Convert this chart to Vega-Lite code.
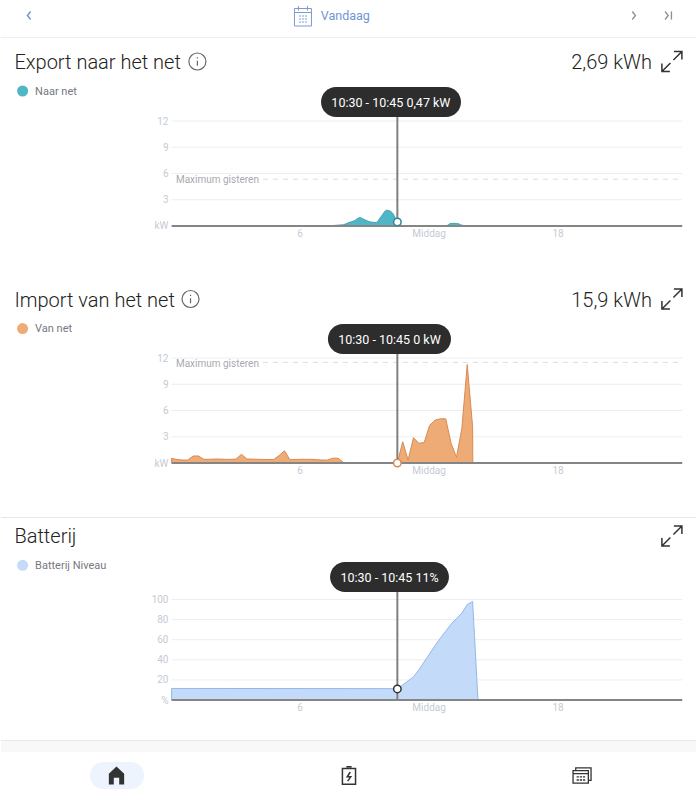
{
  "$schema": "https://vega.github.io/schema/vega-lite/v6.json",
  "padding": 0,
  "spacing": 0,
  "bounds": "flush",
  "background": "white",
  "config": {
    "view": {"stroke": null},
    "text": {"font": "Roboto", "dy": 1.2},
    "axis": {"title": null, "grid": false, "ticks": false, "domain": false, "labelFont": "Roboto", "labelFontSize": 10, "labelColor": "#c6cad6"}
  },
  "data": {"values": [{}]},
  "datasets": {
    "export": [
      {"hour": 7.25, "kW": 0}, {"hour": 7.5, "kW": 0.05}, {"hour": 7.75, "kW": 0.1}, {"hour": 8, "kW": 0.15},
      {"hour": 8.25, "kW": 0.4}, {"hour": 8.5, "kW": 0.6}, {"hour": 8.75, "kW": 0.95}, {"hour": 9, "kW": 0.7},
      {"hour": 9.25, "kW": 0.45}, {"hour": 9.5, "kW": 0.4}, {"hour": 9.75, "kW": 1.1}, {"hour": 10, "kW": 1.8},
      {"hour": 10.25, "kW": 1.55}, {"hour": 10.5, "kW": 0.47}, {"hour": 10.75, "kW": 0.05}, {"hour": 11, "kW": 0},
      {"hour": 11.25, "kW": 0}, {"hour": 11.5, "kW": 0.06}, {"hour": 11.75, "kW": 0}, {"hour": 12.75, "kW": 0},
      {"hour": 13, "kW": 0.3}, {"hour": 13.25, "kW": 0.3}, {"hour": 13.5, "kW": 0.1}, {"hour": 13.75, "kW": 0}
    ],
    "import": [
      {"hour": 0, "kW": 0.53}, {"hour": 0.25, "kW": 0.4}, {"hour": 0.5, "kW": 0.34}, {"hour": 0.75, "kW": 0.34},
      {"hour": 1, "kW": 0.8}, {"hour": 1.25, "kW": 0.8}, {"hour": 1.5, "kW": 0.42}, {"hour": 1.75, "kW": 0.42},
      {"hour": 2, "kW": 0.45}, {"hour": 2.25, "kW": 0.45}, {"hour": 2.5, "kW": 0.42}, {"hour": 2.75, "kW": 0.42},
      {"hour": 3, "kW": 0.45}, {"hour": 3.25, "kW": 1}, {"hour": 3.5, "kW": 0.45}, {"hour": 3.75, "kW": 0.45},
      {"hour": 4, "kW": 0.42}, {"hour": 4.25, "kW": 0.4}, {"hour": 4.5, "kW": 0.4}, {"hour": 4.75, "kW": 0.4},
      {"hour": 5, "kW": 0.85}, {"hour": 5.25, "kW": 1.4}, {"hour": 5.5, "kW": 0.38}, {"hour": 5.75, "kW": 0.4},
      {"hour": 6, "kW": 0.42}, {"hour": 6.25, "kW": 0.42}, {"hour": 6.5, "kW": 0.42}, {"hour": 6.75, "kW": 0.38},
      {"hour": 7, "kW": 0.34}, {"hour": 7.25, "kW": 0.34}, {"hour": 7.5, "kW": 0.55}, {"hour": 7.75, "kW": 0.55},
      {"hour": 8, "kW": 0.05}, {"hour": 8.25, "kW": 0}, {"hour": 10.5, "kW": 0}, {"hour": 10.75, "kW": 2.43},
      {"hour": 11, "kW": 0.34}, {"hour": 11.25, "kW": 2.9}, {"hour": 11.5, "kW": 2.25}, {"hour": 11.75, "kW": 2.35},
      {"hour": 12, "kW": 4.3}, {"hour": 12.25, "kW": 4.9}, {"hour": 12.5, "kW": 5.05}, {"hour": 12.75, "kW": 5.05},
      {"hour": 13, "kW": 2.25}, {"hour": 13.25, "kW": 0.65}, {"hour": 13.5, "kW": 3.95}, {"hour": 13.75, "kW": 11.25},
      {"hour": 14, "kW": 4.15}, {"hour": 14.01, "kW": 0}
    ],
    "battery": [
      {"hour": 0, "pct": 11.5}, {"hour": 10.5, "pct": 11.3}, {"hour": 10.75, "pct": 15}, {"hour": 11, "pct": 19},
      {"hour": 11.25, "pct": 23}, {"hour": 11.5, "pct": 30}, {"hour": 11.75, "pct": 38}, {"hour": 12, "pct": 46},
      {"hour": 12.25, "pct": 54}, {"hour": 12.5, "pct": 61.5}, {"hour": 12.75, "pct": 68.5}, {"hour": 13, "pct": 75.5},
      {"hour": 13.25, "pct": 81}, {"hour": 13.5, "pct": 86.5}, {"hour": 13.75, "pct": 95}, {"hour": 14, "pct": 98},
      {"hour": 14.25, "pct": 0}
    ]
  },
  "vconcat": [
    {
      "width": 696,
      "height": 38,
      "layer": [
        {
          "mark": {"type": "rule", "stroke": "#efefef", "strokeWidth": 1},
          "encoding": {
            "x": {"datum": -7.935, "type": "quantitative", "scale": {"domain": [-7.935, 24.437], "nice": false, "zero": false}, "axis": null},
            "x2": {"datum": 24.437},
            "y": {"datum": 37.5, "type": "quantitative", "scale": {"domain": [0, 38], "reverse": true, "nice": false}, "axis": null}
          }
        },
        {
          "mark": {"type": "point", "shape": "M0.4,-1L-0.4,0L0.4,1", "size": 64, "filled": false, "stroke": "#6f94d6", "strokeWidth": 1.4, "opacity": 1},
          "encoding": {"x": {"datum": -6.632}, "y": {"datum": 15.5}}
        },
        {
          "mark": {"type": "point", "shape": "M-0.85,-0.75H0.85V1H-0.85Z M-0.85,-0.35H0.85 M-0.45,-1V-0.55 M0.45,-1V-0.55 M-0.4,0H-0.2 M-0.1,0H0.1 M0.2,0H0.4 M-0.4,0.3H-0.2 M-0.1,0.3H0.1 M0.2,0.3H0.4 M-0.4,0.6H-0.2 M-0.1,0.6H0.1 M0.2,0.6H0.4", "size": 400, "filled": false, "stroke": "#7d9bd3", "strokeWidth": 1, "opacity": 1},
          "encoding": {"x": {"datum": 6.11}, "y": {"datum": 16}}
        },
        {
          "mark": {"type": "text", "text": "Vandaag", "align": "left", "baseline": "middle", "fontSize": 12.5, "fill": "#6f94d6"},
          "encoding": {"x": {"datum": 6.94}, "y": {"datum": 15}}
        },
        {
          "mark": {"type": "point", "shape": "M-0.4,-1L0.4,0L-0.4,1", "size": 64, "filled": false, "stroke": "#8d8d96", "strokeWidth": 1.3, "opacity": 1},
          "encoding": {"x": {"datum": 21.5}, "y": {"datum": 15.5}}
        },
        {
          "mark": {"type": "point", "shape": "M-0.8,-1L0,0L-0.8,1 M0.8,-1V1", "size": 64, "filled": false, "stroke": "#8d8d96", "strokeWidth": 1.3, "opacity": 1},
          "encoding": {"x": {"datum": 23.1}, "y": {"datum": 15.5}}
        }
      ]
    },
    {
      "width": 696,
      "height": 240,
      "layer": [
        {
          "data": {"values": [{"tick": 3}, {"tick": 6}, {"tick": 9}, {"tick": 12}]},
          "mark": {"type": "rule", "stroke": "#eceef1", "strokeWidth": 1},
          "encoding": {
            "x": {"datum": 0, "type": "quantitative", "scale": {"domain": [-7.935, 24.437], "nice": false, "zero": false}, "axis": {"values": [6, 12, 18], "offset": -52, "labelPadding": 2, "labelOffset": -1, "labelExpr": "datum.value == 12 ? 'Middag' : datum.label"}},
            "x2": {"datum": 23.75},
            "y": {"field": "tick", "type": "quantitative", "scale": {"domain": [-5.943, 21.486], "nice": false}, "axis": {"values": [0, 3, 6, 9, 12], "offset": -171, "labelPadding": 4, "labelExpr": "datum.value == 0 ? 'kW' : datum.label"}}
          }
        },
        {
          "mark": {"type": "rule", "stroke": "#dcdde0", "strokeWidth": 1, "strokeDash": [5, 5]},
          "encoding": {"x": {"datum": 4.25}, "x2": {"datum": 23.75}, "y": {"datum": 5.35}}
        },
        {
          "mark": {"type": "text", "text": "Maximum gisteren", "align": "left", "baseline": "middle", "fontSize": 10, "fill": "#a9a9af"},
          "encoding": {"x": {"datum": 0.2}, "y": {"datum": 5.35}}
        },
        {
          "data": {"name": "export"},
          "mark": {"type": "area", "interpolate": "monotone", "fill": "#4fb6c8", "stroke": "#3f9fb1", "strokeWidth": 1, "fillOpacity": 1},
          "encoding": {"x": {"field": "hour", "type": "quantitative"}, "y": {"field": "kW", "type": "quantitative"}}
        },
        {
          "mark": {"type": "rule", "stroke": "#858585", "strokeWidth": 2},
          "encoding": {"x": {"datum": 0}, "x2": {"datum": 23.75}, "y": {"datum": 0}}
        },
        {
          "mark": {"type": "rule", "stroke": "#808080", "strokeWidth": 2},
          "encoding": {"x": {"datum": 10.5}, "y": {"datum": 0}, "y2": {"datum": 12.457}}
        },
        {
          "mark": {"type": "point", "filled": true, "fill": "white", "fillOpacity": 1, "stroke": "#2f8696", "strokeWidth": 1.5, "size": 56, "opacity": 1},
          "encoding": {"x": {"datum": 10.5}, "y": {"datum": 0.47}}
        },
        {
          "mark": {"type": "rect", "fill": "#2d2d2d", "cornerRadius": 15},
          "encoding": {"x": {"datum": 6.95}, "x2": {"datum": 13.46}, "y": {"datum": 15.886}, "y2": {"datum": 12.457}}
        },
        {
          "mark": {"type": "text", "text": "10:30 - 10:45 0,47 kW", "baseline": "middle", "fontSize": 12.5, "fill": "white"},
          "encoding": {"x": {"datum": 10.2}, "y": {"datum": 14.171}}
        },
        {
          "mark": {"type": "text", "text": "Export naar het net", "align": "left", "baseline": "middle", "fontSize": 20, "fontWeight": 300, "fill": "#222222"},
          "encoding": {"x": {"datum": -7.31}, "y": {"datum": 18.743}}
        },
        {
          "mark": {"type": "point", "shape": "M0,-1A1,1 0 1,1 0,1A1,1 0 1,1 0,-1Z M0,-0.1V0.5 M0,-0.5V-0.35", "size": 289, "filled": false, "stroke": "#66666e", "strokeWidth": 1.2, "opacity": 1},
          "encoding": {"x": {"datum": 1.2}, "y": {"datum": 18.8}}
        },
        {
          "mark": {"type": "text", "text": "2,69 kWh", "align": "right", "baseline": "middle", "fontSize": 20, "fontWeight": 300, "fill": "#222222"},
          "encoding": {"x": {"datum": 22.34}, "y": {"datum": 18.743}}
        },
        {
          "mark": {"type": "point", "shape": "M0.15,-0.15L1,-1M0.2,-1H1V-0.2M-0.15,0.15L-1,1M-0.2,1H-1V0.2", "size": 400, "filled": false, "stroke": "#333333", "strokeWidth": 1.5, "opacity": 1},
          "encoding": {"x": {"datum": 23.27}, "y": {"datum": 18.8}}
        },
        {
          "mark": {"type": "point", "filled": true, "fill": "#4fb6c8", "size": 121, "opacity": 1},
          "encoding": {"x": {"datum": -6.93}, "y": {"datum": 15.43}}
        },
        {
          "mark": {"type": "text", "text": "Naar net", "align": "left", "baseline": "middle", "fontSize": 11, "fill": "#77777f"},
          "encoding": {"x": {"datum": -6.35}, "y": {"datum": 15.486}}
        }
      ]
    },
    {
      "width": 696,
      "height": 239,
      "layer": [
        {
          "data": {"values": [{"tick": 3}, {"tick": 6}, {"tick": 9}, {"tick": 12}]},
          "mark": {"type": "rule", "stroke": "#eceef1", "strokeWidth": 1},
          "encoding": {
            "x": {"datum": 0, "type": "quantitative", "scale": {"domain": [-7.935, 24.437], "nice": false, "zero": false}, "axis": {"values": [6, 12, 18], "offset": -54, "labelPadding": 2, "labelOffset": -1, "labelExpr": "datum.value == 12 ? 'Middag' : datum.label"}},
            "x2": {"datum": 23.75},
            "y": {"field": "tick", "type": "quantitative", "scale": {"domain": [-6.171, 21.143], "nice": false}, "axis": {"values": [0, 3, 6, 9, 12], "offset": -171, "labelPadding": 4, "labelExpr": "datum.value == 0 ? 'kW' : datum.label"}}
          }
        },
        {
          "mark": {"type": "rule", "stroke": "#dcdde0", "strokeWidth": 1, "strokeDash": [5, 5]},
          "encoding": {"x": {"datum": 4.25}, "x2": {"datum": 23.75}, "y": {"datum": 11.5}}
        },
        {
          "mark": {"type": "text", "text": "Maximum gisteren", "align": "left", "baseline": "middle", "fontSize": 10, "fill": "#a9a9af"},
          "encoding": {"x": {"datum": 0.2}, "y": {"datum": 11.5}}
        },
        {
          "data": {"name": "import"},
          "mark": {"type": "area", "fill": "#efab75", "stroke": "#d98a52", "strokeWidth": 1, "fillOpacity": 1},
          "encoding": {"x": {"field": "hour", "type": "quantitative"}, "y": {"field": "kW", "type": "quantitative"}}
        },
        {
          "mark": {"type": "rule", "stroke": "#858585", "strokeWidth": 2},
          "encoding": {"x": {"datum": 0}, "x2": {"datum": 23.75}, "y": {"datum": 0}}
        },
        {
          "mark": {"type": "rule", "stroke": "#808080", "strokeWidth": 2},
          "encoding": {"x": {"datum": 10.5}, "y": {"datum": 0}, "y2": {"datum": 12.457}}
        },
        {
          "mark": {"type": "point", "filled": true, "fill": "white", "fillOpacity": 1, "stroke": "#d98a52", "strokeWidth": 1.5, "size": 56, "opacity": 1},
          "encoding": {"x": {"datum": 10.5}, "y": {"datum": 0}}
        },
        {
          "mark": {"type": "rect", "fill": "#2d2d2d", "cornerRadius": 15},
          "encoding": {"x": {"datum": 7.27}, "x2": {"datum": 12.995}, "y": {"datum": 15.886}, "y2": {"datum": 12.457}}
        },
        {
          "mark": {"type": "text", "text": "10:30 - 10:45 0 kW", "baseline": "middle", "fontSize": 12.5, "fill": "white"},
          "encoding": {"x": {"datum": 10.135}, "y": {"datum": 14.171}}
        },
        {
          "mark": {"type": "text", "text": "Import van het net", "align": "left", "baseline": "middle", "fontSize": 20, "fontWeight": 300, "fill": "#222222"},
          "encoding": {"x": {"datum": -7.31}, "y": {"datum": 18.686}}
        },
        {
          "mark": {"type": "point", "shape": "M0,-1A1,1 0 1,1 0,1A1,1 0 1,1 0,-1Z M0,-0.1V0.5 M0,-0.5V-0.35", "size": 289, "filled": false, "stroke": "#66666e", "strokeWidth": 1.2, "opacity": 1},
          "encoding": {"x": {"datum": 0.88}, "y": {"datum": 18.743}}
        },
        {
          "mark": {"type": "text", "text": "15,9 kWh", "align": "right", "baseline": "middle", "fontSize": 20, "fontWeight": 300, "fill": "#222222"},
          "encoding": {"x": {"datum": 22.34}, "y": {"datum": 18.686}}
        },
        {
          "mark": {"type": "point", "shape": "M0.15,-0.15L1,-1M0.2,-1H1V-0.2M-0.15,0.15L-1,1M-0.2,1H-1V0.2", "size": 400, "filled": false, "stroke": "#333333", "strokeWidth": 1.5, "opacity": 1},
          "encoding": {"x": {"datum": 23.27}, "y": {"datum": 18.743}}
        },
        {
          "mark": {"type": "point", "filled": true, "fill": "#efab75", "size": 121, "opacity": 1},
          "encoding": {"x": {"datum": -6.93}, "y": {"datum": 15.37}}
        },
        {
          "mark": {"type": "text", "text": "Van net", "align": "left", "baseline": "middle", "fontSize": 11, "fill": "#77777f"},
          "encoding": {"x": {"datum": -6.35}, "y": {"datum": 15.43}}
        }
      ]
    },
    {
      "width": 696,
      "height": 224,
      "layer": [
        {
          "data": {"values": [{"tick": 20}, {"tick": 40}, {"tick": 60}, {"tick": 80}, {"tick": 100}]},
          "mark": {"type": "rule", "stroke": "#eceef1", "strokeWidth": 1},
          "encoding": {
            "x": {"datum": 0, "type": "quantitative", "scale": {"domain": [-7.935, 24.437], "nice": false, "zero": false}, "axis": {"values": [6, 12, 18], "offset": -41, "labelPadding": 2, "labelOffset": -1, "labelExpr": "datum.value == 12 ? 'Middag' : datum.label"}},
            "x2": {"datum": 23.75},
            "y": {"field": "tick", "type": "quantitative", "scale": {"domain": [-40.796, 182.09], "nice": false}, "axis": {"values": [0, 20, 40, 60, 80, 100], "offset": -171, "labelPadding": 4, "labelExpr": "datum.value == 0 ? '%' : datum.label"}}
          }
        },
        {
          "mark": {"type": "rule", "stroke": "#e8e8e8", "strokeWidth": 1},
          "encoding": {"x": {"datum": -7.935}, "x2": {"datum": 24.437}, "y": {"datum": 181.6}}
        },
        {
          "mark": {"type": "rule", "stroke": "#e8e8e8", "strokeWidth": 1},
          "encoding": {"x": {"datum": -7.935}, "x2": {"datum": 24.437}, "y": {"datum": -40.3}}
        },
        {
          "data": {"name": "battery"},
          "mark": {"type": "area", "fill": "#c3dbf9", "stroke": "#94b8e6", "strokeWidth": 1, "fillOpacity": 1},
          "encoding": {"x": {"field": "hour", "type": "quantitative"}, "y": {"field": "pct", "type": "quantitative"}}
        },
        {
          "mark": {"type": "rule", "stroke": "#858585", "strokeWidth": 2},
          "encoding": {"x": {"datum": 0}, "x2": {"datum": 23.75}, "y": {"datum": 0}}
        },
        {
          "mark": {"type": "rule", "stroke": "#808080", "strokeWidth": 2},
          "encoding": {"x": {"datum": 10.5}, "y": {"datum": 0}, "y2": {"datum": 107.5}}
        },
        {
          "mark": {"type": "point", "filled": true, "fill": "white", "fillOpacity": 1, "stroke": "#333333", "strokeWidth": 1.5, "size": 56, "opacity": 1},
          "encoding": {"x": {"datum": 10.5}, "y": {"datum": 11}}
        },
        {
          "mark": {"type": "rect", "fill": "#2d2d2d", "cornerRadius": 15},
          "encoding": {"x": {"datum": 7.37}, "x2": {"datum": 12.9}, "y": {"datum": 137.3}, "y2": {"datum": 107.5}}
        },
        {
          "mark": {"type": "text", "text": "10:30 - 10:45 11%", "baseline": "middle", "fontSize": 12.5, "fill": "white"},
          "encoding": {"x": {"datum": 10.135}, "y": {"datum": 122.4}}
        },
        {
          "mark": {"type": "text", "text": "Batterij", "align": "left", "baseline": "middle", "fontSize": 20, "fontWeight": 300, "fill": "#222222"},
          "encoding": {"x": {"datum": -7.31}, "y": {"datum": 163.2}}
        },
        {
          "mark": {"type": "point", "shape": "M0.15,-0.15L1,-1M0.2,-1H1V-0.2M-0.15,0.15L-1,1M-0.2,1H-1V0.2", "size": 400, "filled": false, "stroke": "#333333", "strokeWidth": 1.5, "opacity": 1},
          "encoding": {"x": {"datum": 23.27}, "y": {"datum": 163.2}}
        },
        {
          "mark": {"type": "point", "filled": true, "fill": "#c3dbf9", "size": 121, "opacity": 1},
          "encoding": {"x": {"datum": -6.93}, "y": {"datum": 134}}
        },
        {
          "mark": {"type": "text", "text": "Batterij Niveau", "align": "left", "baseline": "middle", "fontSize": 11, "fill": "#77777f"},
          "encoding": {"x": {"datum": -6.35}, "y": {"datum": 134.3}}
        }
      ]
    },
    {
      "width": 696,
      "height": 59,
      "layer": [
        {
          "mark": {"type": "rect", "fill": "#f8f8f8"},
          "encoding": {
            "x": {"datum": -7.935, "type": "quantitative", "scale": {"domain": [-7.935, 24.437], "nice": false, "zero": false}, "axis": null},
            "x2": {"datum": 24.437},
            "y": {"datum": 0, "type": "quantitative", "scale": {"domain": [0, 59], "reverse": true, "nice": false}, "axis": null},
            "y2": {"datum": 11}
          }
        },
        {
          "mark": {"type": "rect", "fill": "#edf4fd", "cornerRadius": 13},
          "encoding": {"x": {"datum": -3.79}, "x2": {"datum": -1.284}, "y": {"datum": 21}, "y2": {"datum": 48}}
        },
        {
          "mark": {"type": "point", "shape": "M0,-1L0.85,-0.2V1H0.3V0.25H-0.3V1H-0.85V-0.2Z", "size": 324, "filled": true, "fill": "#333333", "opacity": 1},
          "encoding": {"x": {"datum": -2.563}, "y": {"datum": 34.5}}
        },
        {
          "mark": {"type": "point", "shape": "M-0.75,-0.8H0.75V1H-0.75Z M-0.3,-1H0.3 M0.15,-0.4L-0.2,0.15H0.2L-0.15,0.65", "size": 306, "filled": false, "stroke": "#333333", "strokeWidth": 1.5, "opacity": 1},
          "encoding": {"x": {"datum": 8.25}, "y": {"datum": 34.5}}
        },
        {
          "mark": {"type": "point", "shape": "M-1,-0.55H0.7V0.85H-1Z M-0.7,-0.55V-0.85H1V0.55H0.7 M-1,-0.2H0.7 M-0.6,0.15H-0.35 M-0.25,0.15H0 M0.1,0.15H0.35 M-0.6,0.5H-0.35 M-0.25,0.5H0 M0.1,0.5H0.35", "size": 324, "filled": false, "stroke": "#333333", "strokeWidth": 1.3, "opacity": 1},
          "encoding": {"x": {"datum": 19.09}, "y": {"datum": 34.5}}
        }
      ]
    }
  ]
}
